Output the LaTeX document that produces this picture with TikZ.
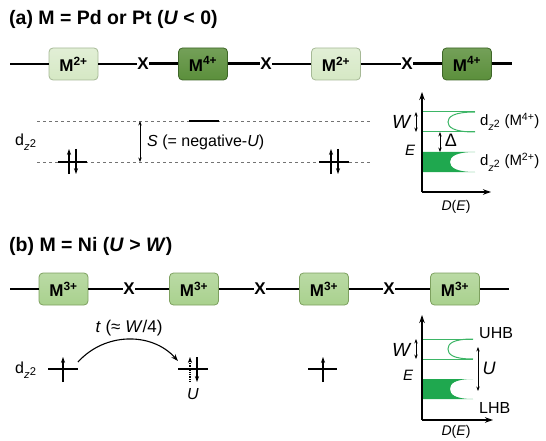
\documentclass[tikz,border=0pt]{standalone}
\usepackage{fontspec}
\setmainfont{Liberation Sans}
\usetikzlibrary{arrows.meta}
\definecolor{lgfill}{HTML}{D5E8C4}
\definecolor{lgdraw}{HTML}{A6B996}
\definecolor{mgfill}{HTML}{A9D18E}
\definecolor{mgdraw}{HTML}{7DA05F}
\definecolor{dgfill}{HTML}{5B8F3B}
\definecolor{dgdraw}{HTML}{3E6628}
\definecolor{bandgreen}{HTML}{1FA84F}
\definecolor{bandline}{HTML}{3DB566}
\newcommand{\dzz}{d\textsubscript{\textit{z}\kern0.2pt\raisebox{0.3em}{2}}}
\begin{document}
\begin{tikzpicture}[x=1pt,y=-1pt,
  box/.style={draw, rounded corners=4pt, minimum width=49pt, minimum height=32pt, inner sep=0pt,
    font=\fontsize{17}{17}\selectfont\bfseries, line width=0.8pt},
  mtwo/.style={box, draw=lgdraw, top color=lgfill!70!white, bottom color=lgfill},
  mfour/.style={box, draw=dgdraw, top color=dgfill!85!white, bottom color=dgfill},
  mthree/.style={box, draw=mgdraw, top color=mgfill!80!white, bottom color=mgfill},
  xnode/.style={inner sep=0.3pt, font=\fontsize{17}{17}\selectfont\bfseries},
  thinbond/.style={line width=1.2pt},
  thickbond/.style={line width=3pt},
  title/.style={font=\fontsize{19.5}{20}\selectfont\bfseries, anchor=west, inner sep=0pt},
  lab/.style={font=\fontsize{16}{16}\selectfont, inner sep=0pt},
  level/.style={line width=2.4pt},
  elec/.style={line width=1.2pt, -{Stealth[length=6pt,width=4.2pt]}},
  dimarr/.style={line width=0.8pt, {Stealth[length=4.5pt,width=3.4pt]}-{Stealth[length=4.5pt,width=3.4pt]}},
  axis/.style={line width=1.1pt, -{Stealth[length=8pt,width=5.5pt]}},
  bline/.style={draw=bandline, line width=1pt},
  dashlev/.style={draw=black!55, dashed, dash pattern=on 3pt off 3pt, line width=0.8pt}
]
\useasboundingbox (0,0) rectangle (546,441);

%% ---------------- (a) ----------------
\node[title] (ta) at (9,19) {(a) M = Pd or Pt (\textit{U} < 0)};

\coordinate (a0) at (10,64);
\node[mtwo]  (a1) at (73.5,64) {M\textsuperscript{2+}};
\node[xnode] (ax1) at (143,64) {X};
\node[mfour] (a2) at (203,64) {M\textsuperscript{4+}};
\node[xnode] (ax2) at (266,64) {X};
\node[mtwo]  (a3) at (336,64) {M\textsuperscript{2+}};
\node[xnode] (ax3) at (407,64) {X};
\node[mfour] (a4) at (467,64) {M\textsuperscript{4+}};
\coordinate (a5) at (512,64);

\draw[thinbond] (a0) -- (a1);
\draw[thinbond] (a1) -- (ax1);
\draw[thickbond] (ax1) -- (a2);
\draw[thickbond] (a2) -- (ax2);
\draw[thinbond] (ax2) -- (a3);
\draw[thinbond] (a3) -- (ax3);
\draw[thickbond] (ax3) -- (a4);
\draw[thickbond] (a4) -- (a5);

% levels
\draw[dashlev] (37,121) -- (372,121);
\draw[dashlev] (37,162) -- (372,162);
\draw[level] (189,121) -- (219,121);
\draw[level] (58,162) -- (87,162);
\draw[level] (319,162) -- (349,162);
\draw[elec] (69,174) -- (69,149);
\draw[elec] (76,149) -- (76,174);
\draw[elec] (331,174) -- (331,149);
\draw[elec] (338,149) -- (338,174);

\coordinate (s1) at (140,121);
\coordinate (s2) at (140,162);
\draw[dimarr] (s1) -- (s2);
\node[lab, anchor=west] (slab) at (147,142) {\textit{S} (= negative-\textit{U})};
\node[lab, anchor=west] (dza) at (15,142) {\dzz};

% DOS (a)
\fill[bandgreen] (422,152) -- (475,152) .. controls (455,152) and (450,157) .. (450,162)
  .. controls (450,167) and (455,172) .. (475,172) -- (422,172) -- cycle;
\draw[bline] (422,112) -- (475,112);
\draw[bline] (422,132) -- (475,132);
\draw[bline] (475,112) .. controls (453,112) and (448,117) .. (448,122)
  .. controls (448,127) and (453,132) .. (475,132);
\coordinate (oa) at (422,192);
\coordinate (ya) at (422,92);
\coordinate (xa) at (491,192);
\draw[axis] (oa) -- (ya);
\draw[axis] (oa) -- (xa);
\draw[dimarr] (416,112) -- (416,132);
\draw[dimarr] (440,132) -- (440,152);
\node[lab, font=\fontsize{19}{19}\selectfont\itshape] (wa) at (401,122) {W};
\node[lab, font=\fontsize{18}{18}\selectfont] (da) at (451,140) {Δ};
\node[lab, font=\fontsize{15}{15}\selectfont\itshape] (ea) at (410,150) {E};
\node[lab, font=\fontsize{14}{14}\selectfont] (dea) at (456,207) {\textit{D}(\textit{E})};
\node[lab, font=\fontsize{15}{15}\selectfont, anchor=west] (l4) at (480,122) {\dzz{} (M\textsuperscript{4+})};
\node[lab, font=\fontsize{15}{15}\selectfont, anchor=west] (l2) at (480,162) {\dzz{} (M\textsuperscript{2+})};

%% ---------------- (b) ----------------
\node[title] (tb) at (9,246) {(b) M = Ni (\textit{U} > \textit{W})};

\coordinate (b0) at (10,289);
\node[mthree] (b1) at (63.5,289) {M\textsuperscript{3+}};
\node[xnode]  (bx1) at (129,289) {X};
\node[mthree] (b2) at (194,289) {M\textsuperscript{3+}};
\node[xnode]  (bx2) at (260,289) {X};
\node[mthree] (b3) at (324,289) {M\textsuperscript{3+}};
\node[xnode]  (bx3) at (389,289) {X};
\node[mthree] (b4) at (455,289) {M\textsuperscript{3+}};
\coordinate (b5) at (509,289);

\draw[thinbond] (b0) -- (b1);
\draw[thinbond] (b1) -- (bx1);
\draw[thinbond] (bx1) -- (b2);
\draw[thinbond] (b2) -- (bx2);
\draw[thinbond] (bx2) -- (b3);
\draw[thinbond] (b3) -- (bx3);
\draw[thinbond] (bx3) -- (b4);
\draw[thinbond] (b4) -- (b5);

\node[lab, anchor=west] (dzb) at (15,370) {\dzz};
\draw[level] (48,369) -- (78,369);
\draw[level] (178,369) -- (208,369);
\draw[level] (308,369) -- (337,369);
\draw[elec] (63,382) -- (63,357);
\draw[elec, densely dotted] (190,382) -- (190,357);
\draw[elec] (197,357) -- (197,382);
\draw[elec] (323,382) -- (323,357);

\coordinate (h1) at (78,362);
\coordinate (h2) at (178,361);
\draw[line width=1.1pt, -{Stealth[length=7pt,width=5pt]}] (h1) .. controls (105,332) and (152,332) .. (h2);
\node[lab, font=\fontsize{17}{17}\selectfont] (tl) at (129,328) {\textit{t} (≈ \textit{W}/4)};
\node[lab, font=\fontsize{16}{16}\selectfont\itshape] (ub) at (193,394) {U};

% DOS (b)
\fill[bandgreen] (422,379) -- (473,379) .. controls (454,379) and (450,384) .. (450,389)
  .. controls (450,394) and (454,399) .. (473,399) -- (422,399) -- cycle;
\draw[bline] (422,339) -- (473,339);
\draw[bline] (422,359) -- (473,359);
\draw[bline] (473,339) .. controls (452,339) and (448,344) .. (448,349)
  .. controls (448,354) and (452,359) .. (473,359);
\coordinate (ob) at (422,420);
\coordinate (yb) at (422,315);
\coordinate (xb) at (493,420);
\draw[axis] (ob) -- (yb);
\draw[axis] (ob) -- (xb);
\draw[dimarr] (416,339) -- (416,359);
\draw[dimarr] (478,347) -- (478,391);
\node[lab, font=\fontsize{19}{19}\selectfont\itshape] (wb) at (401,350) {W};
\node[lab, font=\fontsize{15}{15}\selectfont\itshape] (eb) at (408,375) {E};
\node[lab, font=\fontsize{18}{18}\selectfont\itshape] (ubd) at (489,368) {U};
\node[lab, font=\fontsize{16}{16}\selectfont, anchor=west] (uhb) at (479,333) {UHB};
\node[lab, font=\fontsize{16}{16}\selectfont, anchor=west] (lhb) at (479,408) {LHB};
\node[lab, font=\fontsize{14}{14}\selectfont] (deb) at (456,432) {\textit{D}(\textit{E})};
\end{tikzpicture}
\end{document}
